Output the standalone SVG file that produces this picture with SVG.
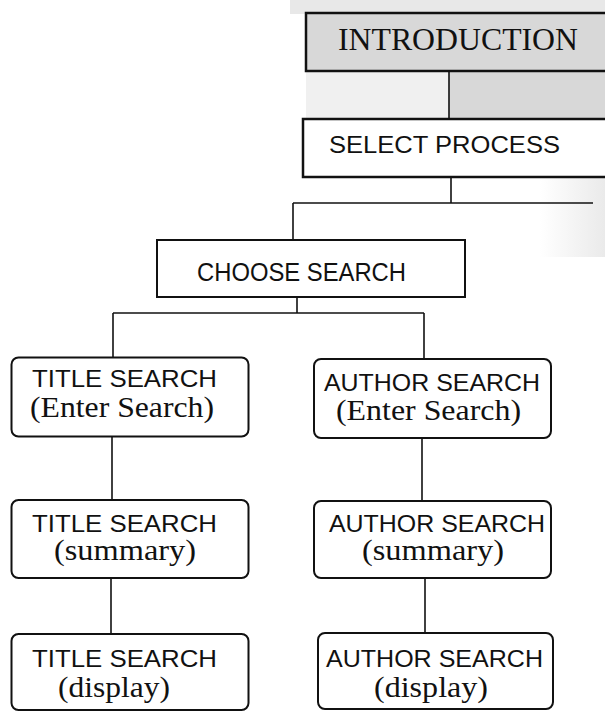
<svg xmlns="http://www.w3.org/2000/svg" width="605" height="711" viewBox="0 0 605 711">
<style>
.box{fill:#fff;stroke:#111;stroke-width:2}
.topbox{stroke:#111;stroke-width:2.5}
.sans{font-family:"Liberation Sans",Arial,sans-serif;fill:#111}
.serif{font-family:"Liberation Serif","Times New Roman",serif;fill:#111}
.conn line{stroke:#111;stroke-width:1.6}
</style>
<defs>
<linearGradient id="fadeR" x1="0" y1="0" x2="1" y2="0">
<stop offset="0" stop-color="#dcdcdc" stop-opacity="0"/>
<stop offset="1" stop-color="#dcdcdc" stop-opacity="0.6"/>
</linearGradient>
</defs>
<g id="background">
<rect x="290" y="0" width="315" height="14" fill="#e8e8e8"/>
<rect x="306" y="71" width="143" height="48" fill="#f0f0f0"/>
<rect x="449" y="71" width="156" height="48" fill="#d8d8d8"/>
<rect x="540" y="177" width="65" height="80" fill="url(#fadeR)"/>
</g>
<g id="connectors" class="conn">
<line x1="449" y1="71" x2="449" y2="119"/>
<line x1="451" y1="177" x2="451" y2="203"/>
<line x1="293" y1="203" x2="593" y2="203"/>
<line x1="293" y1="203" x2="293" y2="240"/>
<line x1="297" y1="297" x2="297" y2="313"/>
<line x1="113" y1="313" x2="424" y2="313"/>
<line x1="113" y1="313" x2="113" y2="357"/>
<line x1="424" y1="313" x2="424" y2="359"/>
<line x1="112" y1="437" x2="112" y2="500"/>
<line x1="422" y1="438" x2="422" y2="501"/>
<line x1="111" y1="578" x2="111" y2="634"/>
<line x1="425" y1="578" x2="425" y2="633"/>
</g>
<g id="introduction">
<rect class="topbox" x="306" y="13" width="310" height="58" fill="#d8d8d8"/>
<text class="serif" x="338" y="50" font-size="32" textLength="240" lengthAdjust="spacingAndGlyphs">INTRODUCTION</text>
</g>
<g id="select-process">
<rect class="topbox" x="303" y="119" width="310" height="58" fill="#fff"/>
<text class="sans" x="329" y="153" font-size="24" textLength="231" lengthAdjust="spacingAndGlyphs">SELECT PROCESS</text>
</g>
<g id="choose-search">
<rect class="box" x="157" y="240" width="308" height="57"/>
<text class="sans" x="197" y="281" font-size="25" textLength="209" lengthAdjust="spacingAndGlyphs">CHOOSE SEARCH</text>
</g>
<g id="title-enter">
<rect class="box" x="11.5" y="357.5" width="237" height="79" rx="7"/>
<text class="sans" x="32" y="387" font-size="24" textLength="185" lengthAdjust="spacingAndGlyphs">TITLE SEARCH</text>
<text class="serif" x="30" y="417" font-size="29" textLength="184" lengthAdjust="spacingAndGlyphs">(Enter Search)</text>
</g>
<g id="author-enter">
<rect class="box" x="314" y="359" width="237" height="79" rx="7"/>
<text class="sans" x="324" y="391" font-size="24" textLength="216" lengthAdjust="spacingAndGlyphs">AUTHOR SEARCH</text>
<text class="serif" x="336" y="420" font-size="29" textLength="185" lengthAdjust="spacingAndGlyphs">(Enter Search)</text>
</g>
<g id="title-summary">
<rect class="box" x="11.5" y="500" width="237" height="78" rx="7"/>
<text class="sans" x="32" y="532" font-size="24" textLength="185" lengthAdjust="spacingAndGlyphs">TITLE SEARCH</text>
<text class="serif" x="54" y="560" font-size="29" textLength="142" lengthAdjust="spacingAndGlyphs">(summary)</text>
</g>
<g id="author-summary">
<rect class="box" x="314" y="501" width="237" height="77" rx="7"/>
<text class="sans" x="329" y="532" font-size="24" textLength="216" lengthAdjust="spacingAndGlyphs">AUTHOR SEARCH</text>
<text class="serif" x="362" y="560" font-size="29" textLength="142" lengthAdjust="spacingAndGlyphs">(summary)</text>
</g>
<g id="title-display">
<rect class="box" x="11.5" y="634" width="237" height="76" rx="7"/>
<text class="sans" x="32" y="667" font-size="24" textLength="185" lengthAdjust="spacingAndGlyphs">TITLE SEARCH</text>
<text class="serif" x="58" y="697" font-size="29" textLength="112" lengthAdjust="spacingAndGlyphs">(display)</text>
</g>
<g id="author-display">
<rect class="box" x="318" y="633" width="235" height="76" rx="7"/>
<text class="sans" x="326" y="667" font-size="24" textLength="217" lengthAdjust="spacingAndGlyphs">AUTHOR SEARCH</text>
<text class="serif" x="374" y="697" font-size="29" textLength="114" lengthAdjust="spacingAndGlyphs">(display)</text>
</g>
</svg>
